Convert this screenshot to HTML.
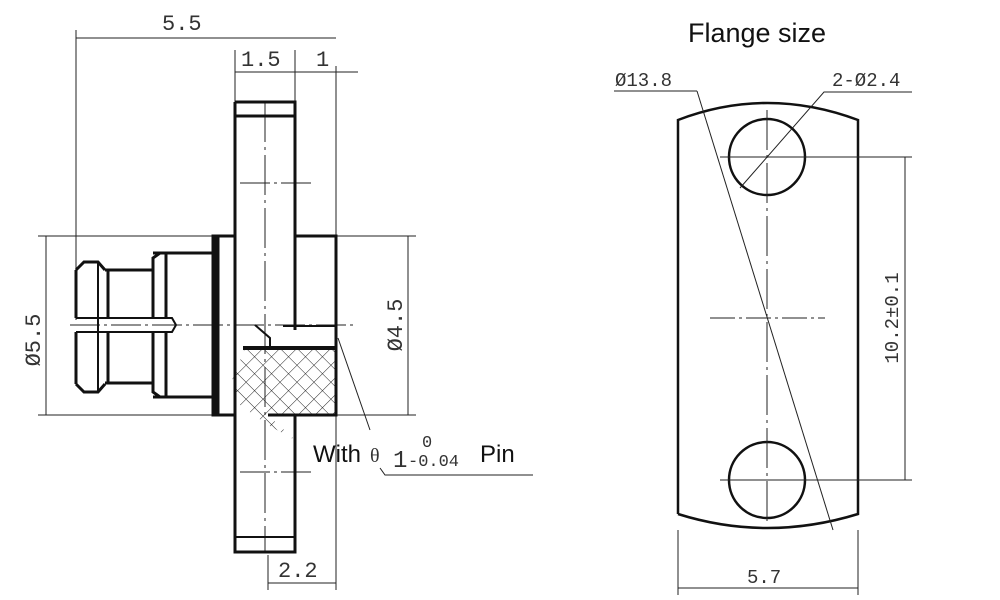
<!DOCTYPE html>
<html><head><meta charset="utf-8"><style>
html,body{margin:0;padding:0;background:#fff;width:1000px;height:600px;overflow:hidden}
svg text.d{font-family:"Liberation Mono",monospace;font-size:22px;fill:#333}
</style></head><body>
<svg width="1000" height="600" viewBox="0 0 1000 600" xmlns="http://www.w3.org/2000/svg">
<defs>
<pattern id="h" width="12" height="12" patternUnits="userSpaceOnUse" patternTransform="rotate(45)">
<path d="M0 0H12M0 0V12" stroke="#222" stroke-width="1"/>
</pattern>
</defs>
<g fill="none" stroke="#222" stroke-width="1">
<line x1="76" y1="38" x2="336" y2="38"/>
<line x1="76" y1="30" x2="76" y2="320"/>
<line x1="336" y1="66" x2="336" y2="590"/>
<line x1="235" y1="72" x2="358" y2="72"/>
<line x1="235" y1="50" x2="235" y2="102"/>
<line x1="295" y1="50" x2="295" y2="102"/>
<line x1="38" y1="236" x2="213" y2="236"/>
<line x1="38" y1="415" x2="213" y2="415"/>
<line x1="46" y1="236" x2="46" y2="415"/>
<line x1="336" y1="236" x2="416" y2="236"/>
<line x1="336" y1="415" x2="416" y2="415"/>
<line x1="408" y1="236" x2="408" y2="415"/>
<line x1="268" y1="555" x2="268" y2="590"/>
<line x1="268" y1="583" x2="336" y2="583"/>
<line x1="70" y1="325" x2="356" y2="325" stroke-dasharray="30 4 3 4"/>
<line x1="265" y1="102" x2="265" y2="552" stroke-dasharray="40 5 3 5"/>
<line x1="240" y1="183" x2="315" y2="183" stroke-dasharray="30 4 3 4"/>
<line x1="240" y1="472" x2="315" y2="472" stroke-dasharray="30 4 3 4"/>
<line x1="338" y1="338" x2="370" y2="430"/>
<polyline points="380,468 385,475 533,475"/>
</g>
<path d="M245 348 L336 348 L336 415 L268 415 L295 440 L268 425 L240 405 L232 380 Z" fill="url(#h)" stroke="none"/>
<g fill="none" stroke="#111" stroke-width="3">
<path d="M235 102 L295 102 L295 330 M295 415 L295 552 L235 552 L235 102"/>
<line x1="235" y1="116" x2="295" y2="116"/>
<line x1="235" y1="537" x2="295" y2="537" stroke-width="2"/>
<path d="M295 236 L336 236 L336 415 L268 415"/>
<rect x="213" y="236" width="22" height="179"/>
<line x1="217" y1="236" x2="217" y2="415" stroke-width="5"/>
<line x1="243" y1="348" x2="336" y2="348" stroke-width="4"/>
<path d="M153 253 L213 253 M153 397 L213 397"/>
<path d="M166 253 L166 318 M166 332 L166 397"/>
<path d="M153 258 L153 318 M153 332 L153 392"/>
<path d="M105 270 L153 270 L153 258 L160 253 M105 383 L153 383 L153 392 L160 397"/>
<path d="M108 270 L108 318 M108 332 L108 383"/>
<path d="M76 270 L84 262 L98 262 L105 270 M76 384 L84 392 L98 392 L105 384"/>
<path d="M76 270 L76 318 M76 332 L76 384"/>
<path d="M98 262 L98 392" stroke-width="2"/>
<path d="M76 318 L172 318 L176 325 L172 332 L76 332" stroke-width="2"/>
<path d="M283 326 L336 326" stroke-width="2"/>
<path d="M255 325 L270 338 L270 348" stroke-width="2"/>
</g>
<g fill="none" stroke="#111" stroke-width="2.5">
<path d="M678 514 L678 120 Q767 86 858 120 L858 514 Q767 542 678 514"/>
<circle cx="767" cy="157" r="38"/>
<circle cx="767" cy="480" r="38"/>
</g>
<g fill="none" stroke="#222" stroke-width="1">
<line x1="767" y1="110" x2="767" y2="525" stroke-dasharray="40 5 3 5"/>
<line x1="720" y1="157" x2="912" y2="157"/>
<line x1="720" y1="480" x2="912" y2="480"/>
<line x1="710" y1="318" x2="825" y2="318" stroke-dasharray="25 4 3 4"/>
<line x1="905" y1="157" x2="905" y2="480"/>
<line x1="614" y1="91" x2="697" y2="91"/>
<line x1="697" y1="91" x2="833" y2="530"/>
<polyline points="740,188 824,92 912,92"/>
<line x1="678" y1="530" x2="678" y2="595"/>
<line x1="858" y1="530" x2="858" y2="595"/>
<line x1="678" y1="588" x2="858" y2="588"/>
</g>
<text class="d" x="162" y="30">5.5</text>
<text class="d" x="241" y="66">1.5</text>
<text class="d" x="316" y="66">1</text>
<text class="d" x="278" y="577">2.2</text>
<text class="d" transform="translate(40,340) rotate(-90)" text-anchor="middle">Ø5.5</text>
<text class="d" transform="translate(402,325) rotate(-90)" text-anchor="middle">Ø4.5</text>
<text x="313" y="462" font-family="Liberation Sans,sans-serif" font-size="24" fill="#111">With</text>
<text x="370" y="462" font-family="Liberation Serif,serif" font-size="20" fill="#333">θ</text>
<text x="393" y="467" font-family="Liberation Mono,monospace" font-size="24" fill="#333">1</text>
<text x="422" y="447" font-family="Liberation Mono,monospace" font-size="17" fill="#333">0</text>
<text x="408" y="466" font-family="Liberation Mono,monospace" font-size="17" fill="#333">-0.04</text>
<text x="480" y="462" font-family="Liberation Sans,sans-serif" font-size="24" fill="#111">Pin</text>
<text x="688" y="42" font-family="Liberation Sans,sans-serif" font-size="27" fill="#111">Flange size</text>
<text class="d" x="615" y="86" style="font-size:19px">Ø13.8</text>
<text class="d" x="832" y="86" style="font-size:19px">2-Ø2.4</text>
<text class="d" x="747" y="583" style="font-size:19px">5.7</text>
<text class="d" transform="translate(898,318) rotate(-90)" text-anchor="middle" style="font-size:19px">10.2±0.1</text>
</svg>
</body></html>
